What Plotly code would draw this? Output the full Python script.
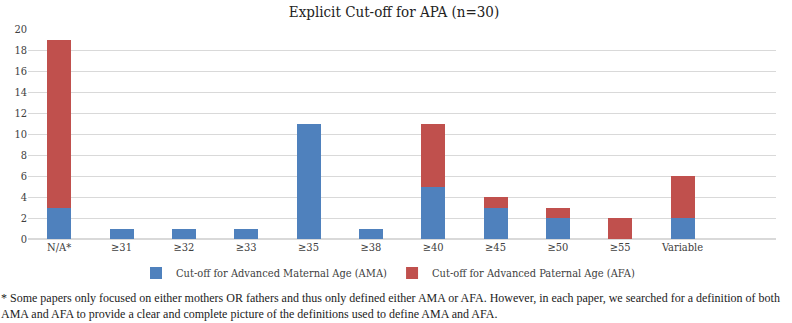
import plotly.graph_objects as go

categories = ["N/A*", "≥31", "≥32", "≥33", "≥35", "≥38", "≥40", "≥45", "≥50", "≥55", "Variable"]
ama_values = [3, 1, 1, 1, 11, 1, 5, 3, 2, 0, 2]
afa_values = [16, 0, 0, 0, 0, 0, 6, 1, 1, 2, 4]
y_ticks = list(range(0, 21, 2))
note_lines = [
    "* Some papers only focused on either mothers OR fathers and thus only defined either AMA or AFA. However, in each paper, we searched for a definition of both",
    "AMA and AFA to provide a clear and complete picture of the definitions used to define AMA and AFA.",
]

FONT = "DejaVu Serif Condensed, DejaVu Serif, serif"
NOTE_FONT = "Liberation Serif"

fig = go.Figure()
fig.add_trace(go.Bar(x=categories, y=ama_values, name="Cut-off for Advanced Maternal Age (AMA)",
                     marker=dict(color="#4F81BD", line=dict(width=0))))
fig.add_trace(go.Bar(x=categories, y=afa_values, name="Cut-off for Advanced Paternal Age (AFA)",
                     marker=dict(color="#C0504D", line=dict(width=0))))

W, H = 792, 323
L, R, T, B = 28, 16, 29, 84
pw, ph = W - L - R, H - T - B

fig.update_layout(
    width=W, height=H,
    barmode="stack", bargap=0.615,
    plot_bgcolor="white", paper_bgcolor="white",
    margin=dict(l=L, r=R, t=T, b=B),
    font=dict(family=FONT, color="#404040", size=11),
    title=dict(text="Explicit Cut-off for APA (n=30)", x=394 / W, xanchor="center",
               y=1 - 12 / H, yanchor="middle", yref="container",
               font=dict(family=FONT, size=15, color="#222222")),
    xaxis=dict(type="category", range=[-0.5, 11.5], showgrid=False, showline=False,
               ticks="", tickfont=dict(size=11, color="#404040")),
    yaxis=dict(range=[0, 20], tickvals=y_ticks, showgrid=True, gridcolor="#D9D9D9",
               gridwidth=1, zeroline=True, zerolinecolor="#D9D9D9", showline=False,
               ticks="", tickfont=dict(size=11, color="#404040")),
    legend=dict(orientation="h", x=(388 - L) / pw, xanchor="center",
                y=(T + ph - 273) / ph, yanchor="middle",
                font=dict(size=11, color="#404040"), itemwidth=30,
                traceorder="normal"),
    showlegend=True,
)

for line, ypix in zip(note_lines, [298, 314]):
    fig.add_annotation(
        text=line,
        xref="paper", yref="paper", x=(0 - L) / pw, y=(T + ph - ypix) / ph,
        xanchor="left", yanchor="middle", align="left", showarrow=False, borderpad=0,
        font=dict(family=NOTE_FONT, size=12, color="#222222"),
    )

fig.write_html("out.html",
               config={"displayModeBar": False},
               post_script="document.body.style.margin='0';document.body.style.overflow='hidden';")
